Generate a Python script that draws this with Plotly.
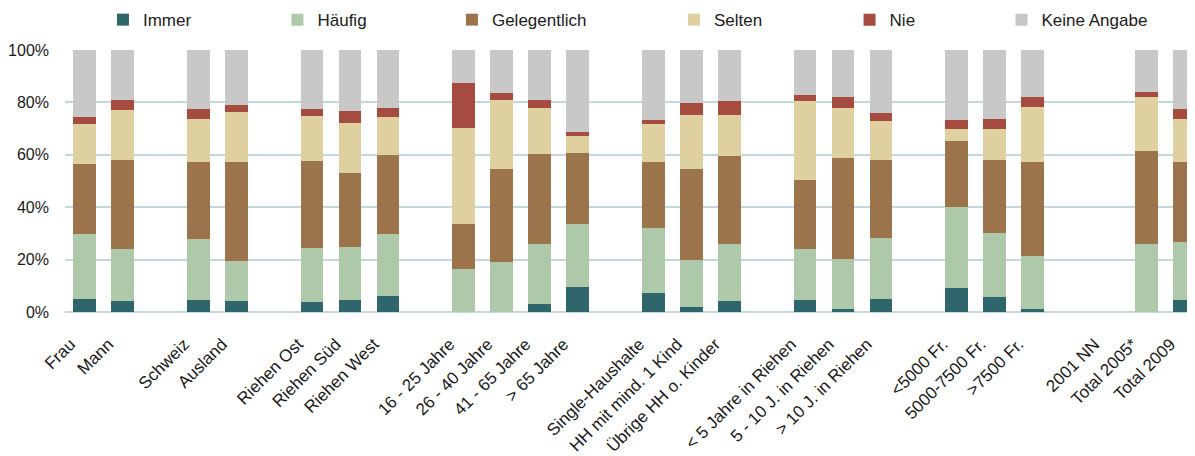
import plotly.graph_objects as go

categories = ["Frau", "Mann", None, "Schweiz", "Ausland", None,
              "Riehen Ost", "Riehen Süd", "Riehen West", None,
              "16 - 25 Jahre", "26 - 40 Jahre", "41 - 65 Jahre", "> 65 Jahre", None,
              "Single-Haushalte", "HH mit mind. 1 Kind", "Übrige HH o. Kinder", None,
              "< 5 Jahre in Riehen", "5 - 10 J. in Riehen", "> 10 J. in Riehen", None,
              "<5000 Fr.", "5000-7500 Fr.", ">7500 Fr.", None,
              "2001 NN", "Total 2005*", "Total 2009"]

series_names = ["Immer", "Häufig", "Gelegentlich", "Selten", "Nie", "Keine Angabe"]

# values per non-gap category (percent)
immer = [4.8, 4.1, 4.4, 4.1, 3.7, 4.4, 6.0, 0.0, 0.0, 2.9, 9.4, 7.1, 1.8, 4.1,
         4.4, 1.0, 4.8, 9.0, 5.6, 1.0, None, 0.0, 4.4]
haeufig = [25.1, 19.8, 23.3, 15.2, 20.9, 20.6, 23.9, 16.6, 18.9, 22.9, 24.0, 25.1, 17.9, 21.7,
           19.5, 19.1, 23.6, 31.2, 24.7, 20.2, None, 25.8, 22.5]
gelegentlich = [26.7, 34.2, 29.7, 38.1, 33.1, 28.2, 30.1, 16.8, 35.8, 34.6, 27.4, 25.2, 35.0, 33.8,
                26.6, 38.8, 29.7, 25.2, 27.8, 36.2, None, 35.7, 30.5]
selten = [15.2, 19.1, 16.3, 19.0, 17.2, 19.0, 14.5, 36.9, 26.3, 17.5, 6.5, 14.4, 20.6, 15.7,
          30.1, 19.0, 14.9, 4.5, 11.8, 20.9, None, 20.6, 16.3]
nie = [2.7, 3.8, 3.8, 2.7, 2.6, 4.6, 3.4, 17.1, 2.6, 3.1, 1.5, 1.6, 4.5, 5.3,
       2.3, 4.2, 3.0, 3.5, 3.8, 3.8, None, 1.9, 3.8]
keine_angabe = [25.5, 19.0, 22.5, 20.9, 22.5, 23.2, 22.1, 12.6, 16.4, 19.0, 31.2, 26.6, 20.2, 19.4,
                17.1, 17.9, 24.0, 26.6, 26.3, 17.9, None, 16.0, 22.5]

colors = ["#2E666B", "#AEC9A9", "#9C744C", "#DED19F", "#A64B3F", "#C8C8C8"]
legend_x = [0.080, 0.227, 0.374, 0.561, 0.709, 0.837]

positions = [i for i, c in enumerate(categories) if c is not None]
labels = [c for c in categories if c is not None]

font = "Liberation Sans, Arial, sans-serif"
fig = go.Figure()
legend_layout = {}
for k, (name, vals, col) in enumerate(zip(series_names,
                                          [immer, haeufig, gelegentlich, selten, nie, keine_angabe],
                                          colors)):
    lname = "legend" if k == 0 else f"legend{k + 1}"
    fig.add_trace(go.Bar(
        x=positions, y=[None if v is None else v / 100 for v in vals],
        name=name, marker=dict(color=col, line=dict(width=0)),
        width=0.6, legend=lname,
    ))
    legend_layout[lname] = dict(
        orientation="h", xref="container", yref="container",
        x=legend_x[k], y=0.973, xanchor="left", yanchor="middle",
        bgcolor="rgba(0,0,0,0)",
        font=dict(family=font, size=17, color="#1a1a1a"),
    )

fig.update_layout(
    barmode="stack",
    width=1187, height=448,
    margin=dict(l=55, r=0, t=42, b=143),
    plot_bgcolor="white", paper_bgcolor="white",
    font=dict(family=font, size=16, color="#1a1a1a"),
    showlegend=True,
    xaxis=dict(
        range=[-0.513, 29.28],
        tickmode="array", tickvals=positions, ticktext=labels,
        tickangle=-45, showgrid=False, zeroline=False, showline=False,
        ticks="", ticklabelstandoff=18, ticklabelshift=-14,
        tickfont=dict(family=font, size=17, color="#1a1a1a"),
    ),
    yaxis=dict(
        range=[0, 1], tickformat=".0%", dtick=0.2,
        showgrid=True, gridcolor="#C4D7DF", gridwidth=2,
        zeroline=True, zerolinecolor="#C4D7DF", zerolinewidth=2,
        showline=False, ticks="", ticklabelstandoff=15,
        tickfont=dict(family=font, size=16, color="#1a1a1a"),
    ),
    **legend_layout,
)

fig.write_html("out.html")
